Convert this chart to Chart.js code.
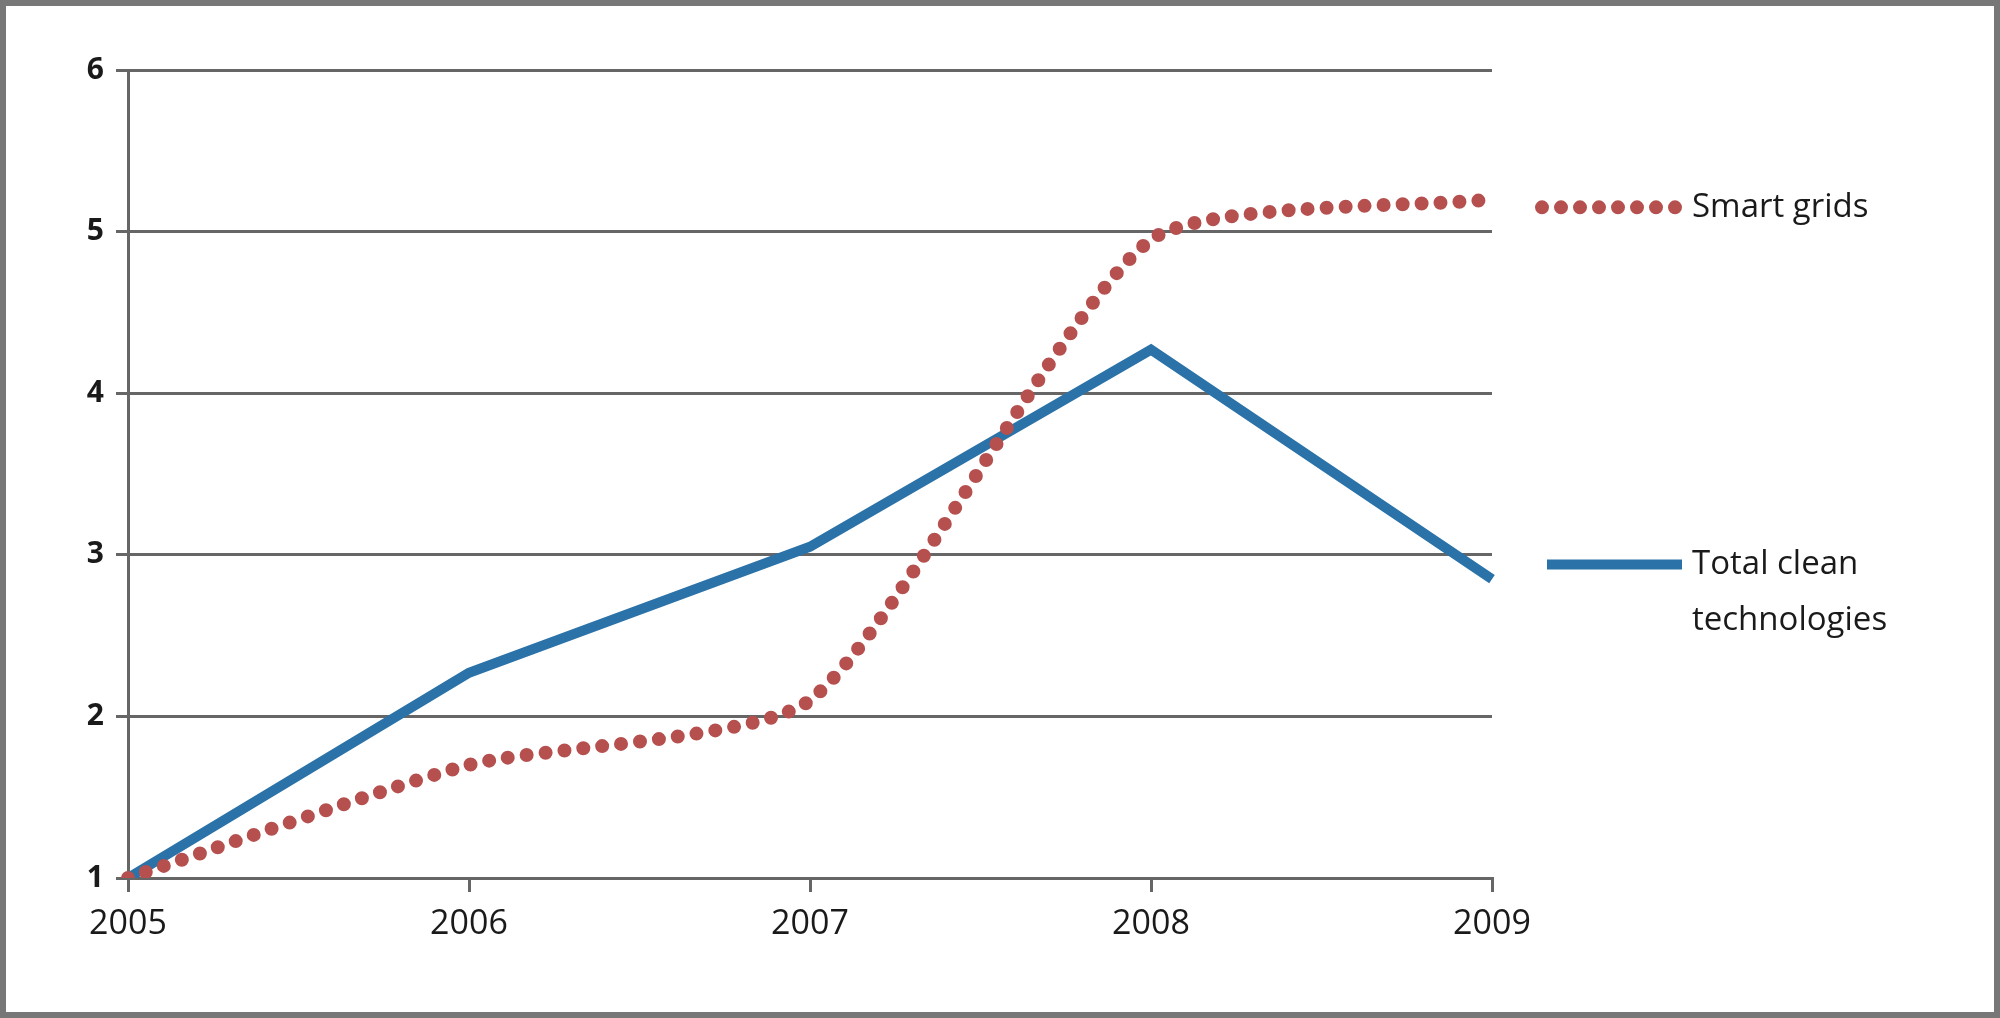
<!DOCTYPE html>
<html lang="en">
<head>
  <meta charset="UTF-8">
  <title>Smart grids vs total clean technologies</title>
  <script src="https://cdn.jsdelivr.net/npm/chart.js"></script>
  <style>
    html, body { margin: 0; padding: 0; background: #fff; }
    canvas { display: block; }
  </style>
</head>
<body>
  <canvas id="c" width="2000" height="1018"></canvas>
  <script>
    const years = ['2005', '2006', '2007', '2008', '2009'];
    const smartGrids = [1, 1.7, 2.1, 4.95, 5.2];
    const totalClean = [1, 2.27, 3.05, 4.27, 2.85];
    const yTicks = [1, 2, 3, 4, 5, 6];

    const font = '"Open Sans", "Liberation Sans", sans-serif';

    // labels at the right end of each line, plus the frame
    const sideLabels = {
      id: 'sideLabels',
      afterDraw(chart) {
        const { ctx, chartArea, scales } = chart;
        const x0 = chartArea.right + 50;
        ctx.save();
        ctx.strokeStyle = '#777';
        ctx.lineWidth = 6;
        ctx.strokeRect(3, 3, chart.width - 6, chart.height - 6);

        let y = scales.y.getPixelForValue(5.15);
        ctx.strokeStyle = '#b5504f';
        ctx.lineWidth = 14;
        ctx.lineCap = 'round';
        ctx.setLineDash([0, 19]);
        ctx.beginPath(); ctx.moveTo(x0, y); ctx.lineTo(x0 + 135, y); ctx.stroke();
        ctx.setLineDash([]);
        ctx.fillStyle = '#1a1a1a';
        ctx.font = '33px ' + font;
        ctx.textBaseline = 'middle';
        ctx.fillText('Smart grids', x0 + 150, y);

        y = scales.y.getPixelForValue(2.94);
        ctx.strokeStyle = '#2a72a8';
        ctx.lineWidth = 10;
        ctx.lineCap = 'butt';
        ctx.beginPath(); ctx.moveTo(x0 + 5, y); ctx.lineTo(x0 + 140, y); ctx.stroke();
        ctx.fillText('Total clean', x0 + 150, y);
        ctx.fillText('technologies', x0 + 150, y + 56);
        ctx.restore();
      }
    };

    new Chart(document.getElementById('c'), {
      type: 'line',
      data: {
        labels: years,
        datasets: [
          {
            label: 'Smart grids',
            data: smartGrids,
            borderColor: '#b5504f',
            borderWidth: 14,
            borderDash: [0, 19],
            borderCapStyle: 'round',
            tension: 0.2,
            pointRadius: 0
          },
          {
            label: 'Total clean technologies',
            data: totalClean,
            borderColor: '#2a72a8',
            borderWidth: 10,
            tension: 0,
            pointRadius: 0
          }
        ]
      },
      options: {
        responsive: false,
        animation: false,
        layout: { padding: { top: 70, right: 508, left: 0, bottom: 0 } },
        plugins: { legend: { display: false }, tooltip: { enabled: false } },
        scales: {
          x: {
            offset: false,
            afterFit(s) { s.height = 140; },
            grid: { drawOnChartArea: false, color: '#666', lineWidth: 3, tickLength: 14 },
            border: { color: '#666', width: 3 },
            ticks: { color: '#1a1a1a', font: { family: font, size: 34 }, padding: 12 }
          },
          y: {
            min: 1, max: 6,
            afterFit(s) { s.width = 128; },
            afterBuildTicks(s) { s.ticks = yTicks.map(v => ({ value: v })); },
            grid: { color: '#666', lineWidth: 3, tickLength: 12 },
            border: { color: '#666', width: 3 },
            ticks: { color: '#1a1a1a', font: { family: font, size: 30, weight: 'bold' }, padding: 12 }
          }
        }
      },
      plugins: [sideLabels]
    });
  </script>
</body>
</html>
